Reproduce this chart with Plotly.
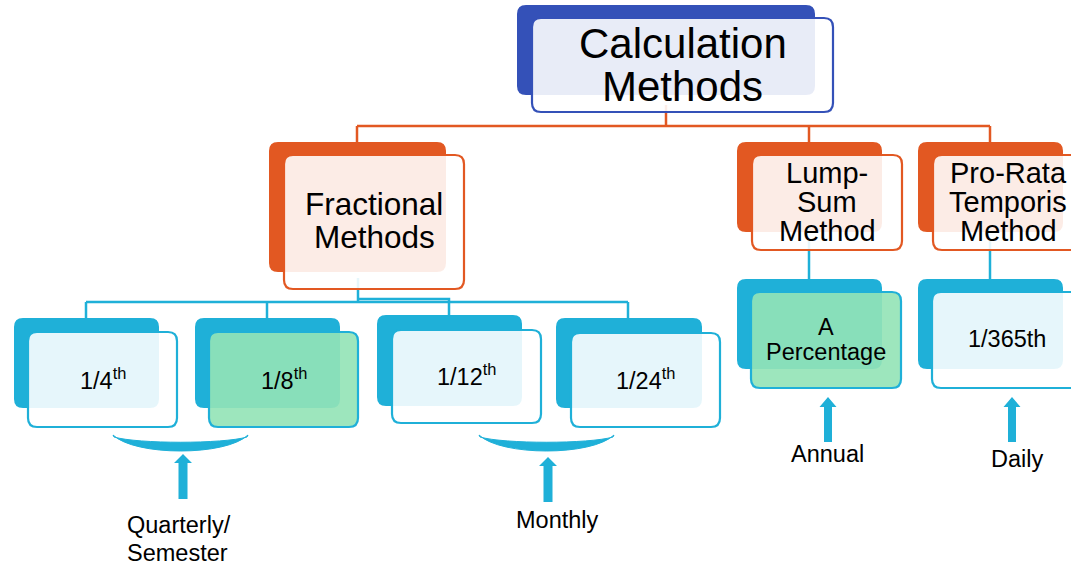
import plotly.graph_objects as go

# ---------------- data (labels / structure) ----------------
node_lines = [
    ["Calculation", "Methods"],
    ["Fractional", "Methods"],
    ["Lump-", "Sum", "Method"],
    ["Pro-Rata", "Temporis", "Method"],
    ["1/4<sup>th</sup>"],
    ["1/8<sup>th</sup>"],
    ["1/12<sup>th</sup>"],
    ["1/24<sup>th</sup>"],
    ["A", "Percentage"],
    ["1/365th"],
]
node_parent = [None, 0, 0, 0, 1, 1, 1, 1, 2, 3]
node_tier = [0, 1, 1, 1, 2, 2, 2, 2, 2, 2]
node_highlight = [False, False, False, False, False, True, False, False, True, False]
period_labels = [["Quarterly/", "Semester"], ["Monthly"], ["Annual"], ["Daily"]]

# ---------------- layout (positions, sizes, styles) ----------------
W, H = 1071, 567
FONT = "Liberation Sans, Arial, sans-serif"
BLUE = "rgb(52,81,184)"
ORANGE = "rgb(226,88,34)"
CYAN = "rgb(31,176,216)"
FRONT_FILL = "rgba(255,255,255,0.89)"
GREEN_FILL = "rgba(147,228,182,0.91)"
tier_color = [BLUE, ORANGE, CYAN]

back_boxes = [
    (517, 5, 815, 95), (269, 142, 446, 272), (737, 142, 882, 232), (918, 142, 1063, 232),
    (14, 318, 159, 408), (195, 318, 340, 408), (377, 315, 522, 406), (556, 318, 702, 408),
    (737, 279, 882, 369), (918, 279, 1063, 369),
]
front_boxes = [
    (532, 18, 833, 112), (284, 155, 464, 289), (752, 155, 902, 250), (933, 155, 1083, 250),
    (28, 332, 177, 427), (209, 332, 358, 427), (392, 330, 541, 423), (571, 333, 720, 427),
    (751, 292, 901, 388), (932, 292, 1082, 388),
]
line_y = [
    [43, 86], [204, 237], [172.5, 202, 231], [172.5, 202, 231],
    [379], [379], [375], [379], [327, 352], [339],
]
node_font = [42, 31.5, 29, 29, 23.5, 23.5, 23.5, 23.5, 23.5, 23.5]
LABEL_FONT = 23.5

connectors = [
    (ORANGE, [(666, 105), (666, 126)]),
    (ORANGE, [(357, 126), (990, 126)]),
    (ORANGE, [(357, 126), (357, 142)]),
    (ORANGE, [(809, 126), (809, 142)]),
    (ORANGE, [(990, 126), (990, 142)]),
    (CYAN, [(358, 278), (358, 302)]),
    (CYAN, [(86, 302), (628, 302)]),
    (CYAN, [(86, 302), (86, 318)]),
    (CYAN, [(267, 302), (267, 318)]),
    (CYAN, [(628, 302), (628, 318)]),
    (CYAN, [(358, 299), (449, 299), (449, 315)]),
    (CYAN, [(809, 240), (809, 279)]),
    (CYAN, [(990, 240), (990, 279)]),
]

braces = [(113, 248, 435, 451), (479, 614, 435, 451)]
arrows = [
    (183, 454, 463, 499, 18, 9),
    (548, 457, 466, 502, 18, 9),
    (828, 397, 407, 442, 17, 8),
    (1012, 397, 407, 442, 17, 8),
]
period_pos = [
    (125, "left", [525, 553]),
    (557, "center", [520]),
    (827, "center", [454]),
    (1017, "center", [459]),
]


def rrect(x0, y0, x1, y1, r):
    return (f"M{x0 + r},{y0} L{x1 - r},{y0} Q{x1},{y0} {x1},{y0 + r} "
            f"L{x1},{y1 - r} Q{x1},{y1} {x1 - r},{y1} L{x0 + r},{y1} "
            f"Q{x0},{y1} {x0},{y1 - r} L{x0},{y0 + r} Q{x0},{y0} {x0 + r},{y0} Z")


shapes = []
annotations = []

for col, pts in connectors:
    path = "M" + " L".join(f"{x},{y}" for x, y in pts)
    shapes.append(dict(type="path", xref="x", yref="y", path=path,
                       line=dict(color=col, width=2.5), layer="above"))

for i in range(len(node_lines)):
    col = tier_color[node_tier[i]]
    bx = back_boxes[i]
    fx = front_boxes[i]
    shapes.append(dict(type="path", xref="x", yref="y", path=rrect(*bx, 9),
                       fillcolor=col, line=dict(width=0), layer="above"))
    fill = GREEN_FILL if node_highlight[i] else FRONT_FILL
    shapes.append(dict(type="path", xref="x", yref="y", path=rrect(*fx, 9),
                       fillcolor=fill, line=dict(color=col, width=2.2), layer="above"))
    cx = (fx[0] + fx[2]) / 2
    for txt, y in zip(node_lines[i], line_y[i]):
        annotations.append(dict(x=cx, y=y, xref="x", yref="y", text=txt, showarrow=False,
                                xanchor="center", yanchor="middle",
                                font=dict(family=FONT, size=node_font[i], color="black")))

for x0, x1, yt, yb in braces:
    ctrl_b = (yb - 0.25 * yt) / 0.75
    ctrl_t = yt + 9
    path = (f"M{x0},{yt} C{x0 + 22},{ctrl_b} {x1 - 22},{ctrl_b} {x1},{yt} "
            f"L{x1 - 1},{yt + 2} C{x1 - 25},{ctrl_t} {x0 + 25},{ctrl_t} {x0 + 1},{yt + 2} Z")
    shapes.append(dict(type="path", xref="x", yref="y", path=path,
                       fillcolor=CYAN, line=dict(color=CYAN, width=1), layer="above"))

for cx, tip, sh, bot, hw, sw in arrows:
    path = (f"M{cx},{tip} L{cx + hw / 2},{sh} L{cx + sw / 2},{sh} L{cx + sw / 2},{bot} "
            f"L{cx - sw / 2},{bot} L{cx - sw / 2},{sh} L{cx - hw / 2},{sh} Z")
    shapes.append(dict(type="path", xref="x", yref="y", path=path,
                       fillcolor=CYAN, line=dict(width=0), layer="above"))

for lines, (x, anchor, ys) in zip(period_labels, period_pos):
    for txt, y in zip(lines, ys):
        annotations.append(dict(x=x, y=y, xref="x", yref="y", text=txt, showarrow=False,
                                xanchor=anchor, yanchor="middle",
                                font=dict(family=FONT, size=LABEL_FONT, color="black")))

fig = go.Figure()
fig.add_trace(go.Scatter(x=[0, W], y=[0, H], mode="markers",
                         marker=dict(opacity=0), hoverinfo="skip", showlegend=False))
fig.update_layout(
    width=W, height=H,
    margin=dict(l=0, r=0, t=0, b=0),
    paper_bgcolor="white", plot_bgcolor="white",
    xaxis=dict(range=[0, W], visible=False, fixedrange=True),
    yaxis=dict(range=[H, 0], visible=False, fixedrange=True),
    shapes=shapes, annotations=annotations, showlegend=False,
)
fig.write_html("out.html", config={"displayModeBar": False},
               post_script="document.body.style.margin='0';document.body.style.overflow='hidden';")
